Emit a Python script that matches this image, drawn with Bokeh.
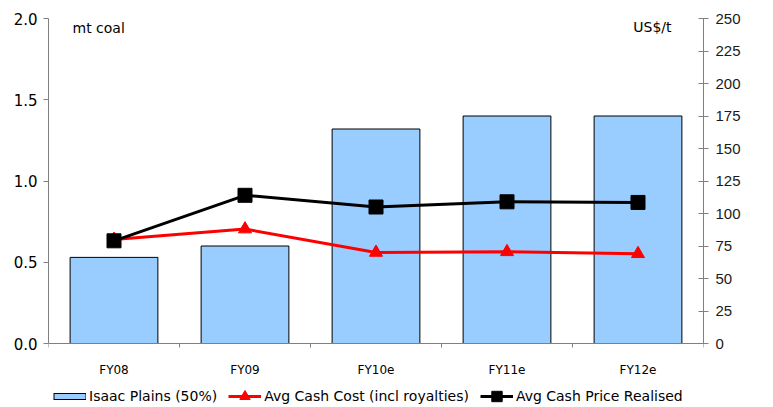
import math
from bokeh.plotting import figure
from bokeh.models import (Range1d, LinearAxis, FixedTicker, Label, Legend,
                          LegendItem, ColumnDataSource, PrintfTickFormatter, Span)
from bokeh.core.properties import value
from bokeh.embed import file_html
from bokeh.resources import INLINE

# ---- data ----
categories = ["FY08", "FY09", "FY10e", "FY11e", "FY12e"]
production_mt = [0.53, 0.60, 1.32, 1.40, 1.40]          # Isaac Plains (50%), mt coal
cash_cost = [80, 88, 70, 70.5, 69]                       # US$/t
cash_price = [79, 114, 105, 109, 108.5]                  # US$/t
left_ticks = [0.0, 0.5, 1.0, 1.5, 2.0]
right_ticks = [0, 25, 50, 75, 100, 125, 150, 175, 200, 225, 250]

x_pos = [i + 0.5 for i in range(len(categories))]
boundaries = list(range(len(categories) + 1))

LEFT_MAX, RIGHT_MAX = 2.0, 250
# frame runs 64 px below the zero line so the category labels and legend sit inside it
BELOW_PX, PLOT_PX = 64, 325
left_min = -LEFT_MAX * BELOW_PX / PLOT_PX
right_min = -RIGHT_MAX * BELOW_PX / PLOT_PX

src = ColumnDataSource(dict(x=x_pos, cat=categories, prod=production_mt,
                            cost=cash_cost, price=cash_price,
                            base=[0] * len(categories)))
bsrc = ColumnDataSource(dict(b=boundaries, base=[0] * len(boundaries)))

p = figure(width=773, height=407, output_backend="svg", toolbar_location=None,
           title=None, x_range=Range1d(0, len(categories)),
           y_range=Range1d(left_min, LEFT_MAX),
           min_border_left=48, min_border_right=70, min_border_top=18,
           min_border_bottom=0)
p.extra_y_ranges = {"price": Range1d(right_min, RIGHT_MAX)}
p.outline_line_color = None
p.xgrid.visible = False
p.ygrid.visible = False
p.xaxis.visible = False
p.background_fill_color = "white"

AXIS_GREY = "#808080"

# left axis
ya = p.yaxis[0]
ya.ticker = FixedTicker(ticks=left_ticks)
ya.bounds = (0, LEFT_MAX)
ya.formatter = PrintfTickFormatter(format="%.1f")
ya.major_tick_out = 5
ya.major_tick_in = 0
ya.minor_tick_line_color = None
ya.axis_line_color = AXIS_GREY
ya.major_tick_line_color = AXIS_GREY
ya.major_label_standoff = 6
ya.major_label_text_font = "DejaVu Sans"
ya.major_label_text_font_size = "15px"
ya.major_label_text_color = "black"

# right axis
ra = LinearAxis(y_range_name="price", ticker=FixedTicker(ticks=right_ticks),
                bounds=(0, RIGHT_MAX))
ra.major_tick_out = 5
ra.major_tick_in = 5
ra.minor_tick_line_color = None
ra.axis_line_color = AXIS_GREY
ra.major_tick_line_color = AXIS_GREY
ra.major_label_standoff = 7
ra.major_label_text_font = "Liberation Sans"
ra.major_label_text_font_size = "15px"
ra.major_label_text_color = "#1a1a1a"
p.add_layout(ra, "right")

# bars
bar_r = p.vbar(x="x", top="prod", width=0.67, source=src,
               fill_color="#99CCFF", line_color="black", line_width=1)

# category axis at zero: line, boundary ticks, labels
p.add_layout(Span(location=0, dimension="width", line_color=AXIS_GREY,
                  line_width=1))
p.ray(x="b", y="base", length=4, length_units="screen", angle=-math.pi / 2,
      source=bsrc, line_color=AXIS_GREY, line_width=1)
p.text(x="x", y="base", text="cat", source=src, y_offset=26,
       text_align="center", text_baseline="alphabetic",
       text_font=value("DejaVu Sans"), text_font_size="12px",
       text_color="black")

# lines
cost_line = p.line("x", "cost", source=src, y_range_name="price",
                   line_color="#FF0000", line_width=3)
cost_pts = p.scatter("x", "cost", source=src, y_range_name="price",
                     marker="triangle", size=13, fill_color="#FF0000",
                     line_color="#FF0000")
price_line = p.line("x", "price", source=src, y_range_name="price",
                    line_color="black", line_width=3)
price_pts = p.scatter("x", "price", source=src, y_range_name="price",
                      marker="square", size=14, fill_color="black",
                      line_color="black")

# legend swatch for the bars: a thin bordered strip (invisible in the plot)
nan_src = ColumnDataSource(dict(x=[float("nan")], y=[float("nan")]))
sw_border = p.line("x", "y", source=nan_src, line_color="black", line_width=7,
                   line_cap="butt")
sw_fill = p.line("x", "y", source=nan_src, line_color="#99CCFF", line_width=5,
                 line_cap="butt", line_dash="31 2", line_dash_offset=32)

# unit labels (screen units from the frame's bottom-left corner)
p.add_layout(Label(x=24, y=316 + BELOW_PX, x_units="screen", y_units="screen",
                   text="mt coal", text_font="DejaVu Sans",
                   text_font_size="14px", text_color="black",
                   text_baseline="alphabetic", text_align="left"))
p.add_layout(Label(x=623, y=317 + BELOW_PX, x_units="screen", y_units="screen",
                   text="US$/t", text_font="DejaVu Sans",
                   text_font_size="14px", text_color="black",
                   text_baseline="alphabetic", text_align="right"))

# legend
legend = Legend(items=[
    LegendItem(label="Isaac Plains (50%)", renderers=[sw_border, sw_fill]),
    LegendItem(label="Avg Cash Cost (incl royalties)",
               renderers=[cost_line, cost_pts]),
    LegendItem(label="Avg Cash Price Realised",
               renderers=[price_line, price_pts])],
    location=(5, -2), orientation="horizontal", padding=0, margin=0,
    border_line_color=None, background_fill_alpha=0,
    label_text_font="DejaVu Sans", label_text_font_size="14px",
    label_text_color="black", label_height=14,
    glyph_width=33, glyph_height=26, label_standoff=3, spacing=11)
p.add_layout(legend, "center")

open("out.html", "w").write(file_html(p, INLINE))
